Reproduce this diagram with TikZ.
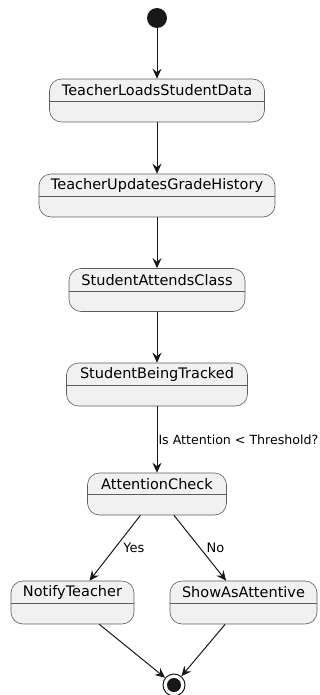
\documentclass[tikz,border=0pt]{standalone}
\usepackage{fontspec}
\setmainfont{DejaVu Sans}
\usetikzlibrary{arrows.meta}
\definecolor{stfill}{HTML}{F1F1F1}
\definecolor{stline}{HTML}{181818}
\begin{document}
\begin{tikzpicture}[x=1pt,y=-1pt,
  statebox/.style={draw=stline!70, line width=0.6pt, fill=stfill, rounded corners=12pt, minimum height=43pt, inner sep=0pt},
  stname/.style={font=\fontsize{14.5}{16}\selectfont, text=black, inner sep=0pt},
  edge/.style={draw=stline, line width=1pt, -{Stealth[length=10pt,width=9pt,inset=3.5pt]}},
  elabel/.style={font=\fontsize{13}{15}\selectfont, text=black, inner sep=0pt}]
\useasboundingbox (0,0) rectangle (320,695);
\newcommand{\mystate}[5]{%
  \node[statebox, minimum width=#3pt] (#1) at (#4,#5) {};
  \draw[stline!70, line width=0.6pt] ([yshift=-23pt]#1.north west) -- ([yshift=-23pt]#1.north east);
  \node[stname] (#1t) at ([yshift=-11.5pt]#1.north) {#2};}
\node[circle, fill=stline, minimum size=20pt, inner sep=0pt] (start) at (157,18) {};
\mystate{s1}{TeacherLoadsStudentData}{215}{157}{100.5}
\mystate{s2}{TeacherUpdatesGradeHistory}{236}{157}{195.5}
\mystate{s3}{StudentAttendsClass}{176}{157}{290}
\mystate{s4}{StudentBeingTracked}{181}{157}{384.5}
\node[statebox, minimum width=139pt, minimum height=42pt] (s5) at (157,494) {};
\draw[stline!70, line width=0.6pt] ([yshift=-22pt]s5.north west) -- ([yshift=-22pt]s5.north east);
\node[stname] (s5t) at ([yshift=-11.5pt]s5.north) {AttentionCheck};
\mystate{s6}{NotifyTeacher}{123}{72.5}{602.5}
\mystate{s7}{ShowAsAttentive}{147}{243.5}{602.5}
\node[circle, draw=stline, line width=1pt, fill=white, minimum size=22pt, inner sep=0pt] (stop) at (174,685) {};
\node[circle, fill=stline, minimum size=14pt, inner sep=0pt] (stopin) at (stop) {};
\draw[edge] (start) -- (s1);
\draw[edge] (s1) -- (s2);
\draw[edge] (s2) -- (s3);
\draw[edge] (s3) -- (s4);
\draw[edge] (s4) -- node[elabel, font=\fontsize{12.6}{15}\selectfont, anchor=west, xshift=1pt] {Is Attention < Threshold?} (s5);
\draw[edge] (s5) -- node[elabel, anchor=west, xshift=8pt] {Yes} (s6);
\draw[edge] (s5) -- node[elabel, anchor=west, xshift=6pt] {No} (s7);
\draw[edge] (s6) -- (stop);
\draw[edge] (s7) -- (stop);
\end{tikzpicture}
\end{document}
